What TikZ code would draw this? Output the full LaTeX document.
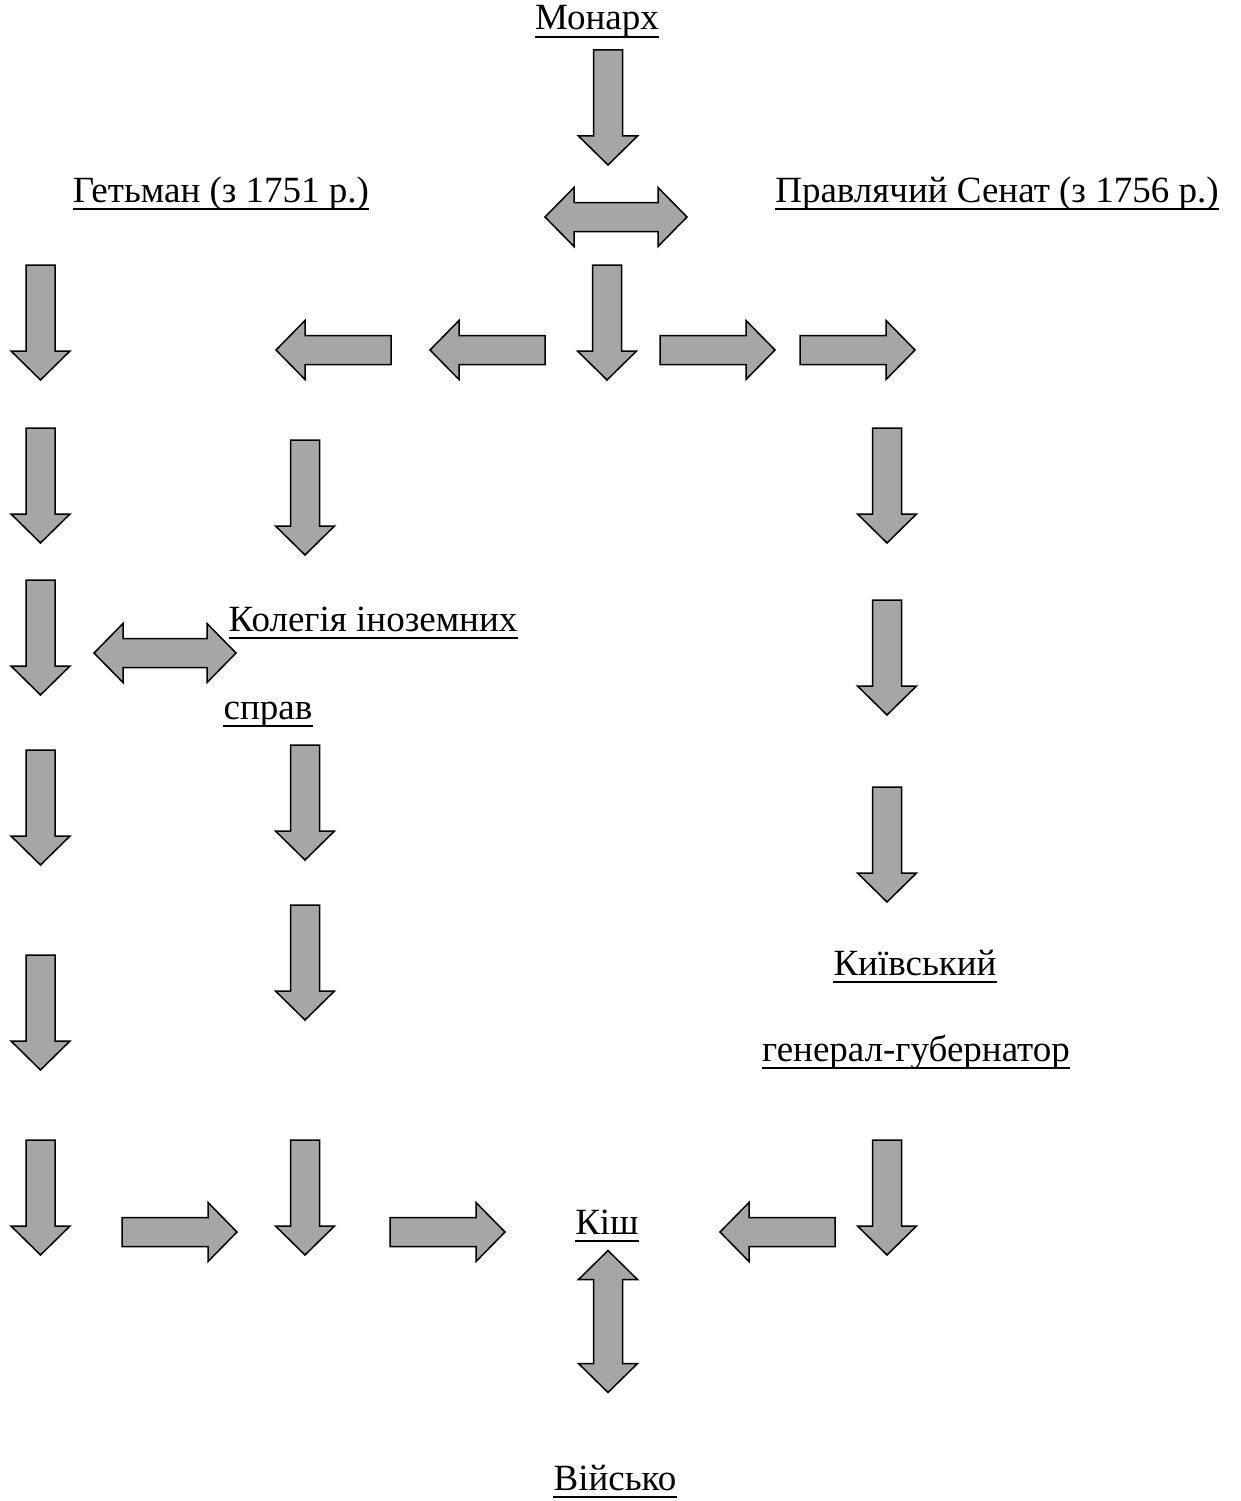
\documentclass[tikz,border=0pt]{standalone}
\usepackage{fontspec}
\setmainfont{Liberation Serif}
\tikzset{
  x=1pt,y=1pt,
  lab/.style={inner sep=0pt, anchor=base, font=\fontsize{37}{44}\selectfont},
  ul/.style={line width=2.2pt},
  blk/.style={draw=black, fill=arrgray, line width=1.5pt, line join=miter},
  darr/.pic={\path[blk] (-14.5,0) -- (14.5,0) -- (14.5,-86) -- (29.5,-86) -- (0,-115) -- (-29.5,-86) -- (-14.5,-86) -- cycle;},
  dbl/.pic={\path[blk] (-71,0) -- (-42,29.5) -- (-42,14.5) -- (42,14.5) -- (42,29.5) -- (71,0) -- (42,-29.5) -- (42,-14.5) -- (-42,-14.5) -- (-42,-29.5) -- cycle;}
}
\definecolor{arrgray}{RGB}{166,166,166}
\newcommand\ulab[4]{\node[lab] (#1) at (#2,#3) {#4};
  \draw[ul] ([yshift=-7pt]#1.base west) -- ([yshift=-7pt]#1.base east);}
\begin{document}
\begin{tikzpicture}
\useasboundingbox (0,0) rectangle (1240,-1501);
% labels
\ulab{monarch}{597}{-30}{Монарх}
\ulab{hetman}{221}{-202}{Гетьман (з 1751 р.)}
\ulab{senat}{997}{-202}{Правлячий Сенат (з 1756 р.)}
\ulab{koleg}{373}{-631}{Колегія іноземних}
\ulab{sprav}{268}{-719}{справ}
\ulab{kyiv}{915}{-975}{Київський}
\ulab{gubern}{916}{-1061}{генерал-губернатор}
\ulab{kish}{607}{-1234}{Кіш}
\ulab{viisko}{615}{-1490}{Військо}
% top
\pic at (608,-50) {darr};
\pic at (616,-217) {dbl};
% row at y=350
\pic at (607,-265) {darr};
\pic[rotate=-90] at (391,-350) {darr};
\pic[rotate=-90] at (545,-350) {darr};
\pic[rotate=90] at (660,-350) {darr};
\pic[rotate=90] at (800,-350) {darr};
% column 1
\foreach \t in {265,428,580,750,955,1140} \pic at (40.5,-\t) {darr};
% column 2
\foreach \t in {440,745,905,1140} \pic at (305,-\t) {darr};
% column 3
\foreach \t in {428,600,787,1140} \pic at (887,-\t) {darr};
% double near Колегія
\pic at (165,-653) {dbl};
% bottom row
\pic[rotate=90] at (122,-1232) {darr};
\pic[rotate=90] at (390,-1232) {darr};
\pic[rotate=-90] at (835,-1232) {darr};
\pic[rotate=90] at (608,-1321.5) {dbl};
\end{tikzpicture}
\end{document}
